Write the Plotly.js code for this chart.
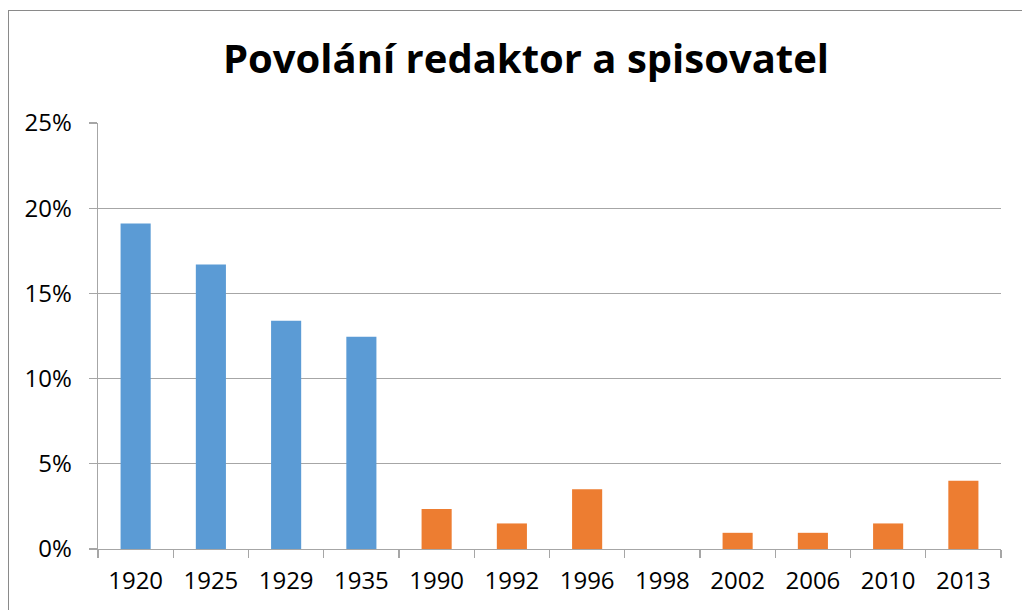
<!DOCTYPE html>
<html>
<head>
<meta charset="utf-8">
<script src="https://cdn.plot.ly/plotly-3.0.1.min.js"></script>
<style>
  html, body { margin: 0; padding: 0; background: #ffffff; }
  #wrap { position: relative; width: 1022px; height: 610px; overflow: hidden; }
  #frame { position: absolute; left: 8px; top: 10px; width: 1040px; height: 640px; border: 1px solid #8a8a8a; box-sizing: border-box; }
  #chart { position: absolute; left: 0; top: 0; width: 1022px; height: 610px; }
</style>
</head>
<body>
<div id="wrap">
  <div id="frame"></div>
  <div id="chart"></div>
</div>
<script>
const titleText = "Povolání redaktor a spisovatel";
const allYears = ["1920", "1925", "1929", "1935", "1990", "1992", "1996", "1998", "2002", "2006", "2010", "2013"];
const earlyYears = ["1920", "1925", "1929", "1935"];
const earlyValues = [0.191, 0.167, 0.134, 0.1245];
const lateYears = ["1990", "1992", "1996", "1998", "2002", "2006", "2010", "2013"];
const lateValues = [0.0235, 0.015, 0.035, 0, 0.0095, 0.0095, 0.015, 0.040];
const yTicks = [0, 0.05, 0.10, 0.15, 0.20, 0.25];
const yTickText = ["0%", "5%", "10%", "15%", "20%", "25%"];

const traces = [
  { type: "bar", x: earlyYears, y: earlyValues, marker: { color: "#5B9BD5" }, hoverinfo: "x+y" },
  { type: "bar", x: lateYears, y: lateValues, marker: { color: "#ED7D31" }, hoverinfo: "x+y" }
];

const layout = {
  width: 1022, height: 610,
  paper_bgcolor: "rgba(0,0,0,0)",
  plot_bgcolor: "rgba(0,0,0,0)",
  margin: { l: 98, r: 21, t: 123, b: 61, pad: 0 },
  showlegend: false,
  barmode: "overlay",
  bargap: 0.6,
  font: { family: "Open Sans, sans-serif", size: 24, color: "#000000" },
  title: {
    text: "<b>" + titleText + "</b>",
    font: { family: "Open Sans, sans-serif", size: 40, color: "#000000" },
    x: 526 / 1022, xref: "container", xanchor: "center",
    y: 1 - 59 / 610, yref: "container", yanchor: "middle"
  },
  xaxis: {
    type: "category",
    categoryorder: "array",
    categoryarray: allYears,
    tickson: "boundaries",
    ticks: "outside", ticklen: 8, tickcolor: "#a6a6a6", tickwidth: 1.3,
    showline: true, linecolor: "#a6a6a6", linewidth: 1.3,
    showgrid: false,
    ticklabelstandoff: 10,
    tickfont: { size: 24 },
    automargin: false
  },
  yaxis: {
    range: [0, 0.25],
    tickvals: yTicks,
    ticktext: yTickText,
    ticks: "outside", ticklen: 8, tickcolor: "#a6a6a6", tickwidth: 1.3,
    showline: true, linecolor: "#a6a6a6", linewidth: 1.3,
    showgrid: true, gridcolor: "#a6a6a6", gridwidth: 1.3,
    zeroline: false,
    ticklabelstandoff: 12,
    tickfont: { size: 24 },
    automargin: false
  }
};

Plotly.newPlot("chart", traces, layout, { displayModeBar: false, staticPlot: true });
</script>
</body>
</html>
